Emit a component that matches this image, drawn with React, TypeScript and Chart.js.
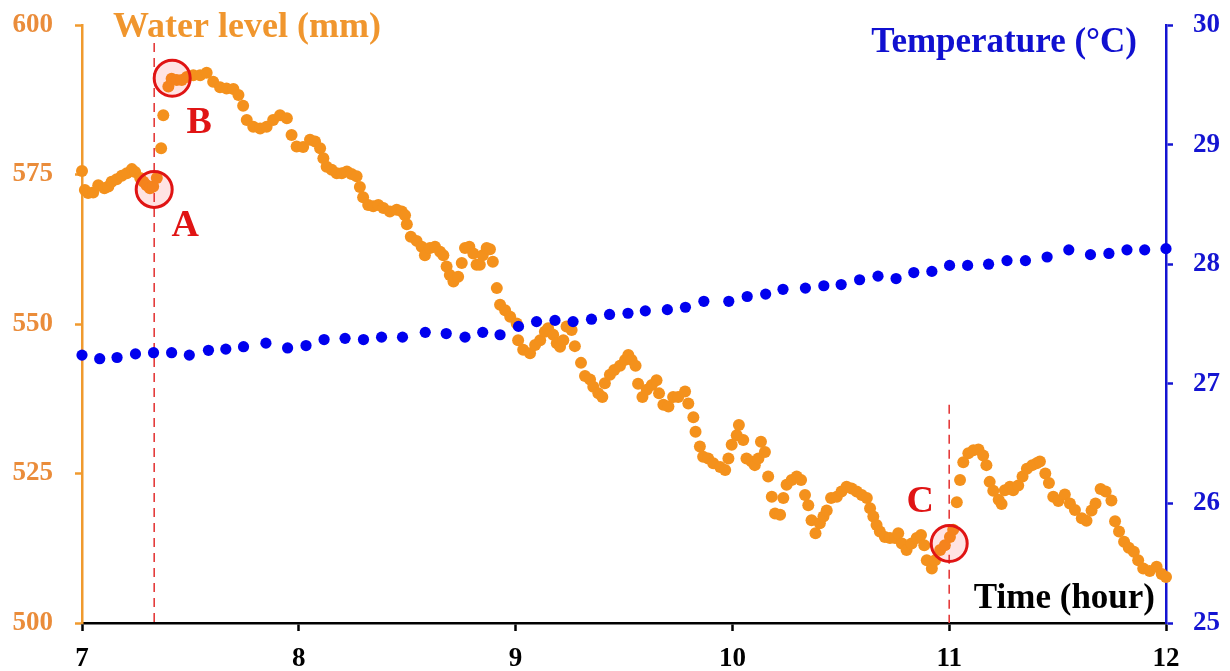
import React, { useEffect, useRef } from 'react';
import { Chart, registerables } from 'chart.js';

Chart.register(...registerables);

// Water level series: minutes after 7:00 and level (mm)
const waterMinutes = [
  0, 0.8, 1.7, 3.1, 4.5, 6.2, 7.3, 8.2, 9.6, 11.0, 12.4, 13.8, 14.7, 16.1, 17.0, 17.9, 18.8, 19.7, 20.7,
  21.9, 22.5, 23.9, 24.8, 26.2, 27.6, 29.0, 30.8, 32.7, 34.5, 36.3, 38.2, 40.0, 41.9, 43.3, 44.6, 45.6,
  47.4, 49.3, 51.1, 52.9, 54.8, 56.7, 58.0, 59.4, 61.2, 63.1, 64.5, 65.9, 66.8, 67.7, 69.1, 70.5, 71.9,
  73.3, 74.6, 76.0, 76.9, 77.8, 79.2, 80.6, 82.0, 83.4, 85.2, 87.1, 88.5, 89.4, 89.9, 91.0, 92.6, 94.0,
  94.9, 96.3, 97.7, 99.1, 100.0, 100.9, 101.8, 102.8, 104.1, 105.1, 106.0, 107.2, 108.3, 109.2, 110.1,
  110.9, 112.0, 112.9, 113.7, 114.8, 115.7, 117.1, 118.5, 120.3, 120.7, 122.1, 124.0, 125.4, 126.8,
  128.1, 129.0, 130.4, 131.4, 132.3, 133.2, 134.1, 135.5, 136.4, 138.1, 139.2, 140.6, 141.5, 142.9,
  144.0, 144.7, 146.1, 147.3, 148.9, 150.3, 151.2, 152.1, 153.2, 153.9, 155.1, 156.3, 157.7, 159.0,
  159.7, 160.9, 162.3, 163.6, 165.0, 166.9, 167.8, 169.2, 169.8, 171.0, 171.9, 173.3, 174.7, 176.6,
  178.0, 178.9, 179.8, 181.2, 181.8, 183.0, 183.9, 185.3, 186.2, 187.2, 187.9, 189.0, 189.9, 190.9,
  191.8, 193.2, 194.1, 195.0, 196.4, 197.8, 199.0, 200.1, 201.0, 201.9, 203.0, 204.2, 205.2, 206.1,
  207.3, 208.9, 210.2, 211.6, 213.0, 214.4, 215.8, 217.2, 218.1, 219.0, 219.9, 220.8, 222.2, 223.6,
  225.0, 225.9, 226.9, 228.2, 229.6, 231.0, 232.2, 233.1, 233.8, 235.2, 236.1, 237.5, 238.8, 240.2,
  241.1, 242.1, 243.0, 243.9, 245.3, 246.7, 248.1, 249.4, 250.3, 251.2, 252.2, 253.7, 254.5, 255.4,
  256.8, 257.7, 259.1, 260.3, 261.5, 263.0, 264.2, 265.1, 266.6, 267.6, 268.8, 270.2, 272.0, 273.4,
  274.8, 276.7, 278.0, 279.4, 280.5, 281.9, 283.3, 284.9, 285.9, 287.0, 288.4, 289.7, 291.1, 292.3,
  293.7, 295.5, 297.4, 298.8, 300.0,
];
const waterLevel = [
  575.6, 572.4, 571.9, 572.0, 573.2, 572.7, 573.0, 573.8, 574.2, 574.8, 575.2, 575.9, 575.4, 574.4, 573.8, 573.2, 572.7, 573.0, 574.4,
  579.4, 584.9, 589.7, 591.0, 590.8, 590.8, 591.3, 591.6, 591.6, 592.0, 590.5, 589.6, 589.4, 589.3, 588.3, 586.5, 584.1,
  583.0, 582.7, 583.0, 584.1, 584.9, 584.4, 581.6, 579.7, 579.6, 580.8, 580.5, 579.4, 577.7, 576.3, 575.8, 575.2, 575.2,
  575.5, 575.1, 574.7, 572.9, 571.2, 569.9, 569.7, 569.9, 569.4, 568.8, 569.1, 568.8, 568.2, 566.7, 564.6, 563.9, 562.9,
  561.5, 562.7, 562.9, 562.1, 561.5, 559.6, 558.2, 557.1, 557.9, 560.2, 562.7, 562.9, 561.8, 559.9, 559.9,
  561.5, 562.7, 562.5, 560.4, 556.0, 553.2, 552.3, 551.2, 550.1, 547.3, 545.7, 545.1, 546.5, 547.3,
  548.7, 549.3, 548.2, 546.8, 546.2, 547.3, 549.6, 549.0, 546.3, 543.5, 541.3, 540.7, 539.5, 538.4,
  537.8, 540.1, 541.5, 542.3, 543.0, 544.0, 544.8, 544.0, 543.0, 540.0, 537.8, 539.0, 539.8, 540.6,
  538.4, 536.5, 536.2, 537.8, 537.8, 538.7, 536.7, 534.4, 532.0, 529.5, 527.8, 527.5, 526.7, 526.1,
  525.6, 527.5, 529.8, 531.4, 533.1, 530.6, 527.5, 527.0, 526.4, 527.5, 530.3, 528.6, 524.5, 521.1,
  518.3, 518.1, 520.9, 523.1, 523.9, 524.5, 523.9, 521.4, 519.7, 517.2, 515.0, 516.7, 517.8, 518.8,
  520.9, 521.1, 522.0, 522.8, 522.5, 522.0, 521.4, 520.9, 519.2, 517.8, 516.4, 515.3, 514.4, 514.2,
  514.2, 515.0, 513.3, 512.2, 513.3, 514.2, 514.7, 513.0, 510.5, 509.1, 510.5, 512.2, 513.0, 514.4,
  515.6, 520.2, 523.9, 526.9, 528.4, 528.9, 529.0, 528.0, 526.4, 523.6, 522.1, 520.6, 519.9, 522.2,
  522.8, 522.2, 523.0, 524.5, 525.8, 526.4, 526.7, 527.0, 525.0, 523.4, 521.1, 520.4, 521.5, 520.0,
  518.9, 517.5, 517.1, 518.8, 520.0, 522.4, 522.0, 520.5, 517.0, 515.3, 513.6, 512.6, 511.9, 510.5,
  509.1, 508.7, 509.4, 508.2, 507.7,
];

// Temperature series: minutes after 7:00 and temperature (°C)
const tempMinutes = [
  0, 4.9, 9.7, 14.8, 19.8, 24.8, 29.7, 35.0, 39.8, 44.7, 50.9, 56.9, 62.0, 67.0, 72.8, 77.9, 82.9, 88.7,
  95.0, 100.8, 106.0, 110.9, 115.7, 120.8, 125.8, 130.9, 135.9, 141.0, 146.0, 151.1, 155.9, 162.0, 167.0,
  172.1, 179.0, 184.1, 189.2, 194.0, 200.2, 205.3, 210.1, 215.2, 220.3, 225.3, 230.2, 235.2, 240.1, 245.1,
  250.9, 256.0, 261.1, 267.1, 273.1, 279.1, 284.2, 289.2, 294.1, 300,
];
const temperature = [
  27.24, 27.21, 27.22, 27.25, 27.26, 27.26, 27.24, 27.28, 27.29, 27.31, 27.34, 27.30, 27.32, 27.37, 27.38, 27.37, 27.39, 27.39,
  27.43, 27.42, 27.39, 27.43, 27.41, 27.48, 27.52, 27.53, 27.52, 27.54, 27.58, 27.59, 27.61, 27.62, 27.64,
  27.69, 27.69, 27.73, 27.75, 27.79, 27.80, 27.82, 27.83, 27.87, 27.90, 27.88, 27.93, 27.94, 27.99, 27.99,
  28.00, 28.03, 28.03, 28.06, 28.12, 28.08, 28.09, 28.12, 28.12, 28.13,
];

// Marked events
const markerHours = [7.333, 7.416, 11.0];
const markerLevels = [572.5, 591.1, 513.3];
const markerLabels = ['A', 'B', 'C'];
const guideHours = [7.333, 11.0];
const guideTopLevels = [597.0, 536.5];

const START_HOUR = 7;
const SERIF = "'Liberation Serif', 'Times New Roman', serif";

const ORANGE_DOT = '#F4911C';
const ORANGE_AXIS = '#F09A2E';
const ORANGE_TEXT = '#EA8C3A';
const BLUE_DOT = '#0000EE';
const BLUE_AXIS = '#1414D2';
const RED = '#E01414';

const labelOffsets = [
  [31, 47],
  [27, 55],
  [-29, -31],
];

const annotationPlugin = {
  id: 'annotations',
  beforeDatasetsDraw(chart: any) {
    const { ctx } = chart;
    const x = chart.scales.x;
    const y = chart.scales.y;
    ctx.save();
    ctx.strokeStyle = '#E43C3C';
    ctx.lineWidth = 1.6;
    ctx.setLineDash([9, 6]);
    guideHours.forEach((h, i) => {
      const px = x.getPixelForValue(h);
      ctx.beginPath();
      ctx.moveTo(px, y.getPixelForValue(guideTopLevels[i]));
      ctx.lineTo(px, y.getPixelForValue(500));
      ctx.stroke();
    });
    ctx.restore();
  },
  afterDatasetsDraw(chart: any) {
    const { ctx } = chart;
    const x = chart.scales.x;
    const y = chart.scales.y;
    ctx.save();
    markerHours.forEach((h, i) => {
      const px = x.getPixelForValue(h);
      const py = y.getPixelForValue(markerLevels[i]);
      ctx.beginPath();
      ctx.arc(px, py, 18, 0, Math.PI * 2);
      ctx.fillStyle = 'rgba(255, 40, 40, 0.13)';
      ctx.fill();
      ctx.lineWidth = 3;
      ctx.strokeStyle = RED;
      ctx.stroke();
      ctx.fillStyle = RED;
      ctx.font = `bold 38px ${SERIF}`;
      ctx.textAlign = 'center';
      ctx.textBaseline = 'alphabetic';
      ctx.fillText(markerLabels[i], px + labelOffsets[i][0], py + labelOffsets[i][1]);
    });
    ctx.restore();
  },
  afterDraw(chart: any) {
    const { ctx, chartArea } = chart;
    ctx.save();
    ctx.textBaseline = 'alphabetic';
    ctx.font = `bold 36px ${SERIF}`;
    ctx.fillStyle = '#F0962E';
    ctx.textAlign = 'left';
    ctx.fillText('Water level (mm)', chartArea.left + 31, chartArea.top + 12);
    ctx.font = `bold 35px ${SERIF}`;
    ctx.fillStyle = '#1010D0';
    ctx.textAlign = 'right';
    ctx.fillText('Temperature (°C)', chartArea.right - 29, chartArea.top + 27);
    ctx.fillStyle = '#000000';
    ctx.fillText('Time (hour)', chartArea.right - 11, chartArea.bottom - 15);
    ctx.restore();
  },
};

export default function App() {
  const canvasRef = useRef<HTMLCanvasElement | null>(null);

  useEffect(() => {
    const canvas = canvasRef.current;
    if (!canvas) return;
    const waterData = waterMinutes.map((m, i) => ({ x: START_HOUR + m / 60, y: waterLevel[i] }));
    const tempData = tempMinutes.map((m, i) => ({ x: START_HOUR + m / 60, y: temperature[i] }));
    const tickFont = { family: SERIF, weight: 'bold' as const, size: 27 };

    const chart = new Chart(canvas, {
      type: 'scatter',
      data: {
        datasets: [
          {
            label: 'Temperature (°C)',
            data: tempData,
            yAxisID: 'y1',
            backgroundColor: BLUE_DOT,
            pointBackgroundColor: BLUE_DOT,
            pointBorderWidth: 0,
            pointRadius: 5.6,
            order: 1,
            clip: false,
          } as any,
          {
            label: 'Water level (mm)',
            data: waterData,
            yAxisID: 'y',
            backgroundColor: ORANGE_DOT,
            pointBackgroundColor: ORANGE_DOT,
            pointBorderWidth: 0,
            pointRadius: 6,
            order: 2,
            clip: false,
          } as any,
        ],
      },
      options: {
        responsive: false,
        animation: false,
        layout: { padding: { top: 25, left: 0, right: 0, bottom: 0 } },
        plugins: {
          legend: { display: false },
          tooltip: { enabled: false },
        },
        scales: {
          x: {
            type: 'linear',
            min: 7,
            max: 12,
            ticks: { stepSize: 1, color: '#000000', font: tickFont, padding: 12 },
            grid: { drawOnChartArea: false, drawTicks: true, tickLength: 8, tickColor: '#000000', tickWidth: 2.5 },
            border: { display: true, color: '#000000', width: 2.5 },
            afterFit: (s: any) => { s.height = 48; s.paddingLeft = 0; s.paddingRight = 0; },
          },
          y: {
            type: 'linear',
            position: 'left',
            min: 500,
            max: 600,
            ticks: { stepSize: 25, color: ORANGE_TEXT, font: tickFont, padding: 22 },
            grid: { drawOnChartArea: false, drawTicks: true, tickLength: 7, tickColor: ORANGE_AXIS, tickWidth: 2.5 },
            border: { display: true, color: ORANGE_AXIS, width: 2.5 },
            afterFit: (s: any) => { s.width = 82; s.paddingTop = 0; s.paddingBottom = 0; },
          },
          y1: {
            type: 'linear',
            position: 'right',
            min: 25,
            max: 30,
            ticks: { stepSize: 1, color: BLUE_AXIS, font: tickFont, padding: 20 },
            grid: { drawOnChartArea: false, drawTicks: true, tickLength: 7, tickColor: BLUE_AXIS, tickWidth: 2.5 },
            border: { display: true, color: BLUE_AXIS, width: 2.5 },
            afterFit: (s: any) => { s.width = 64; s.paddingTop = 0; s.paddingBottom = 0; },
          },
        },
      },
      plugins: [annotationPlugin],
    });

    return () => chart.destroy();
  }, []);

  return (
    <div style={{ position: 'absolute', left: 0, top: 0, width: 1230, height: 671, background: '#ffffff' }}>
      <canvas ref={canvasRef} width={1230} height={671} style={{ display: 'block' }} />
    </div>
  );
}
